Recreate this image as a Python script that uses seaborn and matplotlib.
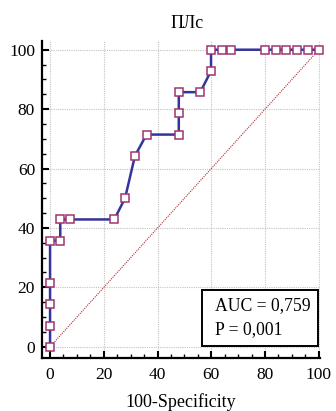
import matplotlib
matplotlib.use("Agg")
import matplotlib.pyplot as plt
from matplotlib.ticker import MultipleLocator
from matplotlib.patches import Rectangle
import seaborn as sns
import pandas as pd

# ROC curve points: 100-Specificity (%) and Sensitivity (%)
fpr = [0, 0, 0, 0, 0, 3.8, 3.8, 7.4, 23.9, 27.9, 31.6, 35.9, 47.9, 47.9, 47.9,
       55.9, 59.9, 59.9, 63.8, 67.4, 79.8, 83.9, 87.9, 91.8, 95.9, 100]
tpr = [0, 7.14, 14.29, 21.43, 35.71, 35.71, 42.86, 42.86, 42.86, 50.0, 64.29,
       71.43, 71.43, 78.57, 85.71, 85.71, 92.86, 100, 100, 100, 100, 100, 100,
       100, 100, 100]
title = "ПЛс"
x_label = "100-Specificity"
auc_text = "AUC = 0,759"
p_text = "P = 0,001"
ticks = [0, 20, 40, 60, 80, 100]

sns.set_style("white")
plt.rcParams["font.family"] = ["Liberation Serif", "DejaVu Serif"]
plt.rcParams["text.color"] = "black"
plt.rcParams["axes.labelcolor"] = "black"

df = pd.DataFrame({"fpr": fpr, "tpr": tpr})

fig = plt.figure(figsize=(3.36, 4.11), dpi=100)
ax = fig.add_axes([0.125, 0.130, 0.827, 0.770])

# chance diagonal
ax.plot([0, 100], [0, 100], linestyle=(0, (1, 1)), color="#b03030", lw=0.8, zorder=2)

sns.lineplot(data=df, x="fpr", y="tpr", sort=False, estimator=None, ax=ax,
             color="#34349a", lw=1.8, marker="s", markersize=5.5,
             markerfacecolor="white", markeredgecolor="#9c3670",
             markeredgewidth=1.1, zorder=3, clip_on=False)

ax.set_xlim(-3.0, 100.4)
ax.set_ylim(-3.64, 102.9)
ax.set_xticks(ticks)
ax.set_yticks(ticks)
ax.xaxis.set_minor_locator(MultipleLocator(5))
ax.yaxis.set_minor_locator(MultipleLocator(5))
ax.tick_params(which="major", direction="in", length=5, width=1.5,
               labelsize=12.5, pad=5, colors="black", labelcolor="black")
ax.tick_params(which="minor", direction="in", length=3, width=1.0,
               colors="black")
ax.tick_params(axis="x", which="both", top=False, bottom=True)
ax.tick_params(axis="y", which="both", right=False, left=True)
ax.tick_params(axis="x", which="major", pad=7)

for side in ("top", "right"):
    ax.spines[side].set_visible(False)
for side in ("left", "bottom"):
    ax.spines[side].set_linewidth(1.6)
    ax.spines[side].set_color("black")

ax.grid(True, which="major", linestyle=(0, (1, 1)), color="#c4c4c4", lw=0.8)
ax.set_axisbelow(True)

ax.set_xlabel(x_label, fontsize=13, labelpad=7, color="black")
ax.set_ylabel("")
fig.text(187 / 336, 1 - 24 / 411, title, fontsize=13, ha="center",
         va="center", color="black")

# AUC annotation box
ax.add_patch(Rectangle((0.576, 0.036), 0.417, 0.179, transform=ax.transAxes,
                       fill=True, facecolor="white", edgecolor="black",
                       lw=1.4, zorder=5))
ax.text(0.622, 0.163, auc_text, transform=ax.transAxes, fontsize=12.7,
        ha="left", va="center", zorder=6, color="black")
ax.text(0.622, 0.087, p_text, transform=ax.transAxes, fontsize=12.7,
        ha="left", va="center", zorder=6, color="black")

fig.savefig("out.png", dpi=100)
